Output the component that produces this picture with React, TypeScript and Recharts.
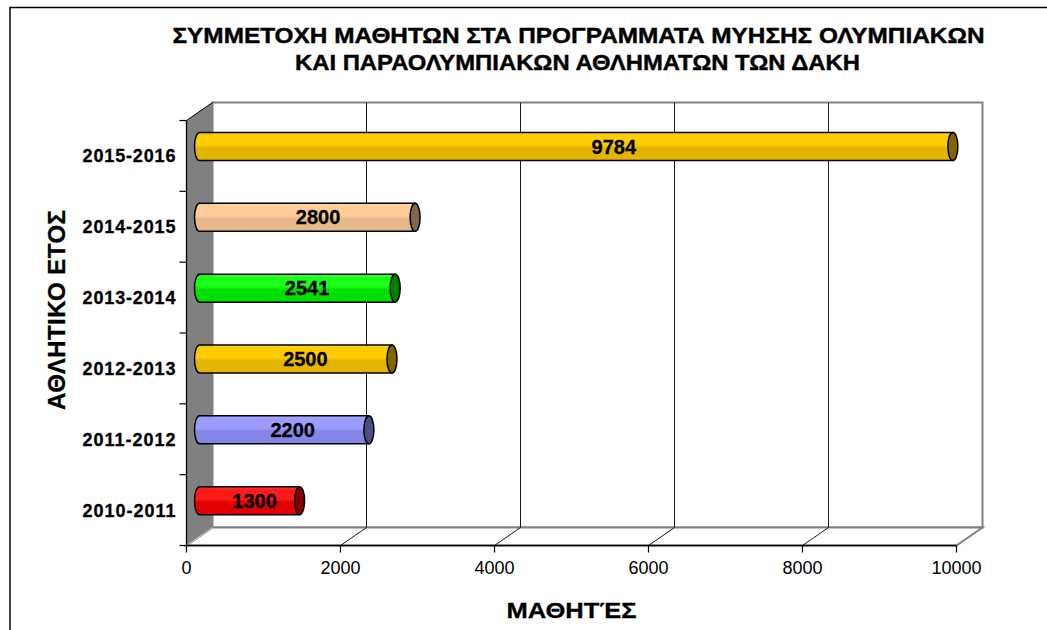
import { Bar, BarChart, XAxis, YAxis, ReferenceArea, LabelList } from 'recharts'

const seasons = ['2010-2011', '2011-2012', '2012-2013', '2013-2014', '2014-2015', '2015-2016']
const students = [1300, 2200, 2500, 2541, 2800, 9784]
const xTicks = [0, 2000, 4000, 6000, 8000, 10000]

const data = seasons.map((season, i) => ({ season, students: students[i] }))

// top / bottom / end cap colour of each cylinder, same order as seasons
const barColors = [
  ['#FF1A1A', '#E20000', '#800000'],
  ['#9C9CFF', '#8585E6', '#4D4D85'],
  ['#FFCC00', '#E3B500', '#806600'],
  ['#1AFF1A', '#00DF00', '#008000'],
  ['#FFCC99', '#E6B88A', '#806650'],
  ['#FFCC00', '#E3B500', '#806600'],
]

const FONT = '"Liberation Sans", Arial, sans-serif'
const W = 1047
const H = 630
// half depth of the 3d box: front plane = mid - DX, + DY ; back plane = mid + DX, - DY
const DX = 13
const DY = 9
const PLOT_BOTTOM = 536.5
const FRONT_BOTTOM = PLOT_BOTTOM + DY

function Frame(props: any) {
  const { x, y, width, height } = props
  const maxTick = xTicks[xTicks.length - 1]
  const fl = x - DX
  const fr = x + width - DX
  const ft = y + DY
  const fb = y + height + DY
  const bl = x + DX
  const br = x + width + DX
  const bt = y - DY
  const bb = y + height - DY
  const n = seasons.length
  return (
    <g>
      <rect x={bl} y={bt} width={br - bl} height={bb - bt} fill="#fff" stroke="#808080" strokeWidth={2} />
      <polygon points={`${fl},${fb} ${bl},${bb} ${br},${bb} ${fr},${fb}`} fill="#fff" stroke="#808080" strokeWidth={2} />
      {xTicks.slice(1, -1).map((t) => {
        const gx = x + (t / maxTick) * width
        return (
          <g key={t}>
            <line x1={gx + DX} y1={bt} x2={gx + DX} y2={bb} stroke="#1a1a1a" strokeWidth={1} />
            <line x1={gx - DX} y1={fb} x2={gx + DX} y2={bb} stroke="#1a1a1a" strokeWidth={1} />
          </g>
        )
      })}
      <polygon points={`${fl},${ft} ${bl},${bt} ${bl},${bb} ${fl},${fb}`} fill="#808080" />
      <line x1={fl} y1={ft} x2={bl} y2={bt} stroke="#000" strokeWidth={1} />
      <line x1={fl} y1={fb} x2={bl} y2={bb} stroke="#c8c8c8" strokeWidth={1} />
      <line x1={fl} y1={ft} x2={fl} y2={fb} stroke="#000" strokeWidth={1.3} />
      <line x1={fl} y1={fb} x2={fr} y2={fb} stroke="#000" strokeWidth={1.3} />
      {Array.from({ length: n + 1 }, (_, i) => {
        const yy = ft + (i * (fb - ft)) / n
        return <line key={i} x1={fl - 7} y1={yy} x2={fl} y2={yy} stroke="#000" strokeWidth={1.2} />
      })}
    </g>
  )
}

function XTick(props: any) {
  const { x, payload } = props
  const fx = x - DX
  return (
    <g>
      <line x1={fx} y1={FRONT_BOTTOM} x2={fx} y2={FRONT_BOTTOM + 7} stroke="#000" strokeWidth={1.2} />
      <text x={fx} y={574} textAnchor="middle" fontSize={18} fontFamily={FONT} fill="#000">
        {payload.value}
      </text>
    </g>
  )
}

function YTick(props: any) {
  const { y, payload } = props
  return (
    <text
      x={175.5}
      y={y + DY + 6.5}
      textAnchor="end"
      fontSize={18}
      fontWeight="bold"
      fontFamily={FONT}
      fill="#000"
      stroke="#000"
      strokeWidth={0.3}
      textLength={93}
      lengthAdjust="spacing"
    >
      {payload.value}
    </text>
  )
}

function Cylinder(props: any) {
  const { x, y, width, height } = props
  let idx = seasons.indexOf(props.payload?.season)
  if (idx < 0) idx = props.index ?? 0
  const [top, bottom, cap] = barColors[idx]
  const rx = 5
  const ry = height / 2
  const x1 = x + width
  const id = `cyl-${idx}`
  const d = `M${x},${y} L${x1},${y} L${x1},${y + height} L${x},${y + height} A${rx},${ry} 0 0 1 ${x},${y} Z`
  return (
    <g>
      <defs>
        <linearGradient id={id} x1="0" y1="0" x2="0" y2="1">
          <stop offset="0" stopColor={top} stopOpacity={0.85} />
          <stop offset="0.12" stopColor={top} />
          <stop offset="0.45" stopColor={top} />
          <stop offset="0.55" stopColor={bottom} />
          <stop offset="1" stopColor={bottom} />
        </linearGradient>
      </defs>
      <path d={d} fill={`url(#${id})`} stroke="#000" strokeWidth={1.5} />
      <ellipse cx={x1} cy={y + ry} rx={rx} ry={ry} fill={cap} stroke="#000" strokeWidth={1.5} />
    </g>
  )
}

function BarValue(props: any) {
  const { x, y, width, height, value } = props
  return (
    <text
      x={Number(x) + Number(width) * 0.55}
      y={Number(y) + Number(height) / 2 + 7}
      textAnchor="middle"
      fontSize={20}
      fontWeight="bold"
      fontFamily={FONT}
      fill="#000"
      stroke="#000"
      strokeWidth={0.3}
    >
      {value}
    </text>
  )
}

export default function App() {
  return (
    <div style={{ position: 'absolute', left: 0, top: 0, width: W, height: H, background: '#fff', overflow: 'hidden' }}>
      <BarChart
        width={W}
        height={H}
        data={data}
        layout="vertical"
        margin={{ top: 111.5, right: 77.5, bottom: 63.5, left: 0 }}
      >
        <XAxis
          type="number"
          domain={[0, 10000]}
          ticks={xTicks}
          interval={0}
          height={30}
          axisLine={false}
          tickLine={false}
          tick={<XTick />}
        />
        <YAxis
          type="category"
          dataKey="season"
          reversed
          width={199.5}
          axisLine={false}
          tickLine={false}
          interval={0}
          tick={<YTick />}
        />
        <ReferenceArea x1={0} x2={10000} shape={<Frame />} ifOverflow="visible" />
        <Bar dataKey="students" barSize={28} isAnimationActive={false} shape={<Cylinder />}>
          <LabelList dataKey="students" content={<BarValue />} />
        </Bar>
      </BarChart>
      <svg width={W} height={H} style={{ position: 'absolute', left: 0, top: 0, pointerEvents: 'none' }}>
        <rect x={10} y={7.5} width={1100} height={700} fill="none" stroke="#000" strokeWidth={1.5} />
        <text x={172.5} y={42.5} fontSize={22} fontWeight="bold" fontFamily={FONT} stroke="#000" strokeWidth={0.4} textLength={812} lengthAdjust="spacingAndGlyphs">
          ΣΥΜΜΕΤΟΧΗ ΜΑΘΗΤΩΝ ΣΤΑ ΠΡΟΓΡΑΜΜΑΤΑ ΜΥΗΣΗΣ ΟΛΥΜΠΙΑΚΩΝ
        </text>
        <text x={295} y={70} fontSize={22} fontWeight="bold" fontFamily={FONT} stroke="#000" strokeWidth={0.4} textLength={565} lengthAdjust="spacingAndGlyphs">
          ΚΑΙ ΠΑΡΑΟΛΥΜΠΙΑΚΩΝ ΑΘΛΗΜΑΤΩΝ ΤΩΝ ΔΑΚΗ
        </text>
        <text
          x={56}
          y={319}
          transform="rotate(-90 56 310)"
          textAnchor="middle"
          fontSize={24}
          fontWeight="bold"
          fontFamily={FONT}
          stroke="#000"
          strokeWidth={0.3}
          textLength={200}
          lengthAdjust="spacing"
        >
          ΑΘΛΗΤΙΚΟ ΕΤΟΣ
        </text>
        <text x={571.5} y={618} textAnchor="middle" fontSize={22} fontWeight="bold" fontFamily={FONT} stroke="#000" strokeWidth={0.3} textLength={130} lengthAdjust="spacingAndGlyphs">
          ΜΑΘΗΤΈΣ
        </text>
      </svg>
    </div>
  )
}
